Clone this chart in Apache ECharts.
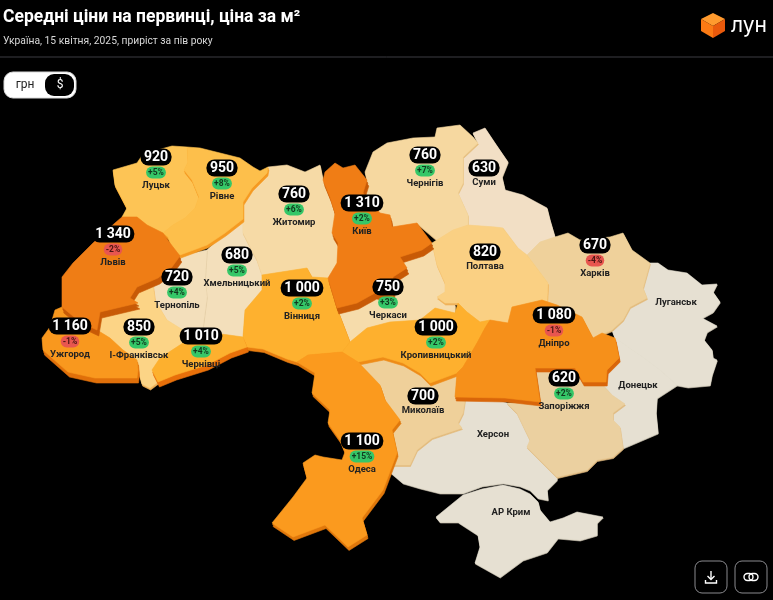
<!DOCTYPE html>
<html><head><meta charset="utf-8">
<style>html,body{margin:0;padding:0;background:#000}#c{width:773px;height:600px}</style>
<script src="https://cdn.jsdelivr.net/npm/echarts@6/dist/echarts.min.js"></script>
</head><body><div id="c"></div>
<script>
// ---- data ----
const regionNames = ['Луганськ','Донецьк','Херсон','АР Крим','Запоріжжя','Суми','Харків','Хмельницький','Миколаїв','Тернопіль','Черкаси','Житомир','Чернігів','Полтава','І-Франківськ','Луцьк','Рівне','Вінниця','Кропивницький','Чернівці','Дніпро','Одеса','Ужгород','Київ','Львів'];
const priceUsd   = [null,null,null,null,620,630,670,680,700,720,750,760,760,820,850,920,950,1000,1000,1010,1080,1100,1160,1310,1340];
const growthPct  = [null,null,null,null,2,null,-4,5,null,4,3,6,7,null,5,5,8,2,2,4,-1,15,-1,2,-2];

// ---- styling, in the same order as the regions ----
const topColors  = ['#e6e0d2','#e6e0d2','#e6e0d2','#e6e0d2','#ebd0a0','#f2dfc5','#efd19b','#f3dfbb','#efd09a','#f3dfbb','#f6dcab','#f6daa6','#f6d8a0','#fad083','#fcd486','#fdc455','#fdbf4b','#feb12f','#feb02e','#fdb02e','#f6901a','#fb9a1e','#f9981e','#f07d15','#ef7d15'];
const sideColors = ['#d6cfbe','#d6cfbe','#d6cfbe','#d6cfbe','#e0bb82','#d9c7a8','#e3bb7c','#dcc59c','#e3bb7c','#dcc59c','#e6bf80','#e6bf80','#e6bf80','#f0b35a','#f0b35a','#f8a830','#f59a22','#e87d10','#ee8c18','#e8700a','#d9660a','#e0780c','#e0700a','#c85a06','#c85a06'];
const sideDepths = [1,1,1,1,1.5,1,1.5,1,1.5,1,1.5,1.5,1.5,2,2,2.5,3,3.5,3,5,4,3.5,5,6,6];

// ---- map geometry, in page pixels ----
const regionOutlines = {
 'Луцьк':[[113,170],[137,163],[143,154],[172,146],[187,147],[188,162],[184,170],[192,180],[199,197],[195,208],[185,218],[173,225],[163,233],[147,225],[137,217],[122,217],[127,208],[115,185]],
 'Рівне':[[187,147],[200,148],[220,153],[240,158],[253,167],[260,171],[268,167],[267,173],[252,188],[243,202],[243,219],[225,233],[207,245],[180,255],[173,250],[168,237],[163,233],[173,225],[185,218],[195,208],[199,197],[192,180],[184,170],[188,162]],
 'Львів':[[122,217],[137,217],[147,225],[163,233],[170,243],[180,256],[172,267],[158,278],[137,287],[130,298],[138,303],[100,312],[97,330],[80,322],[62,307],[62,277],[73,263],[93,243],[115,223]],
 'Ужгород':[[42,338],[50,327],[55,310],[62,307],[80,322],[97,330],[110,338],[123,350],[137,360],[138,370],[137,378],[95,378],[68,372],[43,350]],
 'І-Франківськ':[[137,287],[153,285],[155,300],[167,320],[183,330],[187,333],[183,343],[160,358],[152,370],[158,382],[150,388],[142,384],[138,370],[137,360],[123,350],[110,338],[97,330],[100,312],[138,303],[130,298]],
 'Тернопіль':[[180,256],[207,250],[205,280],[207,297],[203,327],[207,332],[187,333],[183,330],[167,320],[155,300],[153,285],[172,267]],
 'Хмельницький':[[207,250],[225,233],[243,219],[243,233],[257,260],[262,275],[262,290],[245,310],[243,337],[207,332],[203,327],[207,297],[205,280]],
 'Чернівці':[[152,370],[160,358],[183,343],[187,333],[207,332],[243,337],[247,347],[230,353],[207,365],[175,375],[158,382]],
 'Вінниця':[[262,275],[307,268],[312,277],[328,278],[337,308],[350,342],[342,352],[308,355],[297,362],[287,359],[263,349],[247,347],[243,337],[245,310],[262,290]],
 'Житомир':[[268,167],[267,173],[252,188],[243,202],[243,219],[243,233],[257,260],[262,275],[307,268],[312,277],[328,278],[337,263],[338,243],[332,233],[335,213],[330,197],[323,180],[320,165],[305,172],[287,165]],
 'Київ':[[325,172],[335,163],[343,168],[355,165],[367,180],[363,193],[380,213],[390,215],[392,227],[417,223],[432,243],[422,250],[400,257],[407,268],[393,277],[393,297],[375,293],[357,303],[337,308],[328,278],[337,263],[338,243],[332,233],[335,213],[330,197],[323,180]],
 'Чернігів':[[367,180],[365,172],[373,152],[387,143],[413,138],[435,137],[437,128],[460,125],[473,137],[478,143],[463,157],[463,183],[458,193],[468,215],[468,225],[453,230],[437,240],[417,223],[392,227],[390,215],[380,213],[363,193]],
 'Суми':[[473,133],[485,128],[495,143],[508,162],[502,177],[505,190],[523,195],[547,208],[550,220],[555,237],[540,242],[527,255],[518,248],[503,228],[495,227],[468,225],[468,215],[458,193],[463,183],[463,157],[478,143]],
 'Харків':[[527,255],[540,242],[555,237],[568,233],[580,240],[610,237],[623,233],[632,250],[650,263],[643,288],[647,298],[630,307],[623,320],[612,330],[593,338],[582,317],[557,305],[547,302],[548,283]],
 'Полтава':[[432,243],[437,240],[453,230],[468,225],[495,227],[503,228],[518,248],[527,255],[548,283],[547,302],[542,300],[512,307],[508,323],[490,320],[480,322],[467,312],[458,303],[445,303],[437,297],[445,292],[445,283],[437,265]],
 'Черкаси':[[337,308],[357,303],[375,293],[393,297],[393,277],[407,268],[400,257],[422,250],[432,243],[437,265],[445,283],[445,292],[437,297],[445,303],[455,305],[455,313],[435,308],[420,320],[390,322],[367,328],[350,342]],
 'Кропивницький':[[350,342],[367,328],[390,322],[420,320],[435,308],[455,313],[458,303],[467,312],[480,322],[490,320],[485,328],[477,343],[463,367],[457,373],[430,383],[420,373],[403,363],[383,357],[358,362],[342,352]],
 'Одеса':[[297,362],[308,355],[342,352],[358,362],[380,385],[385,400],[400,420],[392,430],[397,453],[383,490],[362,518],[367,535],[348,547],[325,525],[293,537],[272,523],[293,497],[307,478],[303,463],[315,455],[323,457],[342,460],[345,452],[340,440],[328,423],[330,410],[312,393],[315,373]],
 'Миколаїв':[[358,362],[383,357],[403,363],[420,373],[430,383],[457,373],[455,397],[465,400],[463,413],[458,423],[462,428],[432,438],[417,450],[410,465],[392,465],[397,453],[392,430],[400,420],[385,400],[380,385]],
 'Дніпро':[[485,328],[490,320],[508,323],[512,307],[542,300],[557,305],[582,317],[593,338],[602,333],[615,338],[619,358],[607,370],[606,382],[583,382],[575,368],[535,368],[540,402],[505,398],[455,397],[457,373],[463,367],[477,343]],
 'Запоріжжя':[[535,368],[575,368],[583,382],[606,382],[603,385],[612,395],[625,404],[613,413],[613,420],[620,427],[623,448],[613,457],[597,460],[587,470],[557,477],[527,447],[530,440],[517,413],[507,403],[540,402]],
 'Донецьк':[[615,338],[640,355],[660,370],[677,385],[657,398],[656,413],[658,433],[623,448],[620,427],[613,420],[613,413],[625,404],[612,395],[603,385],[606,382],[607,370],[619,358]],
 'Луганськ':[[650,263],[658,263],[668,270],[687,273],[702,285],[717,284],[713,292],[720,302],[713,312],[702,318],[717,326],[707,332],[704,340],[712,350],[713,358],[717,360],[712,375],[710,385],[688,387],[677,385],[660,370],[640,355],[615,338],[612,330],[623,320],[630,307],[647,298],[643,288]],
 'Херсон':[[465,400],[477,395],[507,403],[517,413],[530,440],[527,447],[557,477],[557,480],[547,490],[548,500],[538,498],[530,490],[520,486],[503,483],[482,486],[463,493],[440,493],[420,488],[403,483],[390,472],[392,465],[410,465],[417,450],[432,438],[462,428],[458,423],[463,413]],
 'АР Крим':[[436,517],[447,508],[463,495],[482,489],[503,485],[520,489],[530,494],[538,502],[540,510],[550,522],[563,518],[577,512],[603,517],[597,523],[597,535],[580,540],[558,538],[547,552],[523,560],[500,577],[475,563],[480,547],[478,535],[458,522],[440,522]]
};
// where each region's label block sits (centre of the block)
const labelAnchors = {
 'Луцьк':[156,170],'Рівне':[222,181],'Житомир':[294,207],'Київ':[362,216],'Чернігів':[425,168],'Суми':[484,174],
 'Львів':[113,247],'Хмельницький':[237,268],'Тернопіль':[177,290],'Вінниця':[302,301],'Черкаси':[388,300],'Полтава':[485,258],
 'Харків':[595,258],'Ужгород':[70,339],'І-Франківськ':[139,340],'Чернівці':[201,349],'Кропивницький':[436,340],'Дніпро':[554,328],
 'Запоріжжя':[564,391],'Миколаїв':[423,402],'Одеса':[362,454],'Луганськ':[676,303],'Донецьк':[638,386],'Херсон':[493,435],'АР Крим':[511,513]
};

const flat = {project:p=>[p[0],p[1]], unproject:p=>[p[0],p[1]]};
const bounds = [[0,0],[773,600]];
function feature(name){
  const ring = regionOutlines[name].concat([regionOutlines[name][0]]);
  return {type:'Feature',properties:{name:name,cp:labelAnchors[name]},geometry:{type:'Polygon',coordinates:[ring]}};
}
const font = 'Roboto';
const series = [];
let z = 2;
function layer(mapName, regionName, value, color, dx, dy){
  echarts.registerMap(mapName,{type:'FeatureCollection',features:[feature(regionName)]});
  series.push({type:'map',map:mapName,projection:flat,boundingCoords:bounds,aspectScale:1,
    left:dx,top:dy,width:773,height:600,silent:true,selectedMode:false,z:z++,
    roam:false,showLegendSymbol:false,animation:false,
    label:{show:false},emphasis:{disabled:true},
    itemStyle:{areaColor:color,borderColor:color,borderWidth:0.6},
    data:[{name:regionName,value:value==null?0:value}]});
}
regionNames.forEach((n,i)=>{
  const d = sideDepths[i];
  layer(n+'#a',n,priceUsd[i],sideColors[i],d*0.3,d);
  if(d>2) layer(n+'#b',n,priceUsd[i],sideColors[i],d*0.15,d/2);
  layer(n+'#t',n,priceUsd[i],topColors[i],0,0);
});
function money(v){return String(v).replace(/\B(?=(\d{3})+$)/g,' ');}
function pct(v){return (v>0?'+':'')+v+'%';}
echarts.registerMap('labels',{type:'FeatureCollection',features:regionNames.map(feature)});
series.push({type:'map',map:'labels',projection:flat,boundingCoords:bounds,aspectScale:1,
  left:0,top:0,width:773,height:600,silent:true,selectedMode:false,z:200,roam:false,showLegendSymbol:false,
  animation:false,emphasis:{disabled:true},
  itemStyle:{areaColor:'rgba(0,0,0,0)',borderColor:'rgba(0,0,0,0)',borderWidth:0},
  label:{show:true,fontFamily:font,
    formatter:p=>{
      const i=regionNames.indexOf(p.name); const v=priceUsd[i], g=growthPct[i];
      const out=[];
      if(v!=null) out.push('{v|'+money(v)+'}');
      if(g!=null) out.push((g>=0?'{up|':'{dn|')+pct(g)+'}');
      out.push('{n|'+p.name+'}');
      return out.join('\n');
    },
    rich:{
      v:{color:'#fff',fontFamily:font,fontSize:14,fontWeight:700,backgroundColor:'#000',borderRadius:8,padding:[2,3.5,1,3.5],lineHeight:17,align:'center'},
      up:{color:'#12381e',fontFamily:font,fontSize:8.5,fontWeight:700,backgroundColor:'#35c768',borderRadius:6,padding:[2,2,1,2],lineHeight:14,align:'center'},
      dn:{color:'#4a1512',fontFamily:font,fontSize:8.5,fontWeight:700,backgroundColor:'#e8564f',borderRadius:6,padding:[2,2,1,2],lineHeight:14,align:'center'},
      n:{color:'#222',fontFamily:font,fontSize:9.5,fontWeight:700,lineHeight:12,align:'center'}
    }},
  data:regionNames.map((n,i)=>({name:n,value:priceUsd[i]==null?0:priceUsd[i]}))});

const stroke='#8a8a8e';
const graphic=[
 {type:'line',shape:{x1:0,y1:57,x2:773,y2:57},style:{stroke:'#3c3c42',lineWidth:1}},
 // toggle
 {type:'rect',shape:{x:4,y:72,width:72,height:26,r:9},style:{fill:'#fff',stroke:'#d8d8d8',lineWidth:1}},
 {type:'rect',shape:{x:45,y:74,width:29,height:22,r:9},style:{fill:'#000'}},
 {type:'text',x:25,y:85,style:{text:'грн',fill:'#222',font:'12px Roboto',align:'center',verticalAlign:'middle'}},
 {type:'text',x:60,y:85,style:{text:'$',fill:'#fff',font:'12px Roboto',align:'center',verticalAlign:'middle'}},
 // logo
 {type:'polygon',shape:{points:[[713,13],[725,19],[713,26],[701,19]]},style:{fill:'#ff9a2e'}},
 {type:'polygon',shape:{points:[[701,19],[713,26],[713,38],[701,31]]},style:{fill:'#fb7a14'}},
 {type:'polygon',shape:{points:[[725,19],[713,26],[713,38],[725,31]]},style:{fill:'#ea5a0c'}},
 {type:'text',x:731,y:26,style:{text:'лун',fill:'#fff',font:'400 21px Inter',align:'left',verticalAlign:'middle'}},
 // buttons
 {type:'rect',shape:{x:695,y:561,width:32,height:32,r:7},style:{fill:'#000',stroke:stroke,lineWidth:1}},
 {type:'rect',shape:{x:735,y:561,width:32,height:32,r:7},style:{fill:'#000',stroke:stroke,lineWidth:1}},
 {type:'line',shape:{x1:711,y1:571,x2:711,y2:579},style:{stroke:'#fff',lineWidth:1.4}},
 {type:'polyline',shape:{points:[[707.5,576],[711,579.5],[714.5,576]]},style:{stroke:'#fff',lineWidth:1.4,fill:'none'}},
 {type:'polyline',shape:{points:[[705.5,580],[705.5,583],[716.5,583],[716.5,580]]},style:{stroke:'#fff',lineWidth:1.4,fill:'none'}},
 {type:'rect',shape:{x:744,y:573.5,width:9,height:7,r:3.5},style:{fill:'none',stroke:'#fff',lineWidth:1.4}},
 {type:'rect',shape:{x:749,y:573.5,width:9,height:7,r:3.5},style:{fill:'none',stroke:'#fff',lineWidth:1.4}}
];

const chart=echarts.init(document.getElementById('c'),null,{renderer:'canvas'});
chart.setOption({
  backgroundColor:'#000',animation:false,
  title:{text:'Середні ціни на первинці, ціна за м²',subtext:'Україна, 15 квітня, 2025, приріст за пів року',
    left:3,top:8,itemGap:7,padding:0,
    textStyle:{color:'#fff',fontFamily:font,fontSize:17.5,fontWeight:700,lineHeight:20},
    subtextStyle:{color:'#d8d8d8',fontFamily:font,fontSize:10.3,lineHeight:13}},
  tooltip:{show:false},
  graphic:graphic,
  series:series
});
</script></body></html>
